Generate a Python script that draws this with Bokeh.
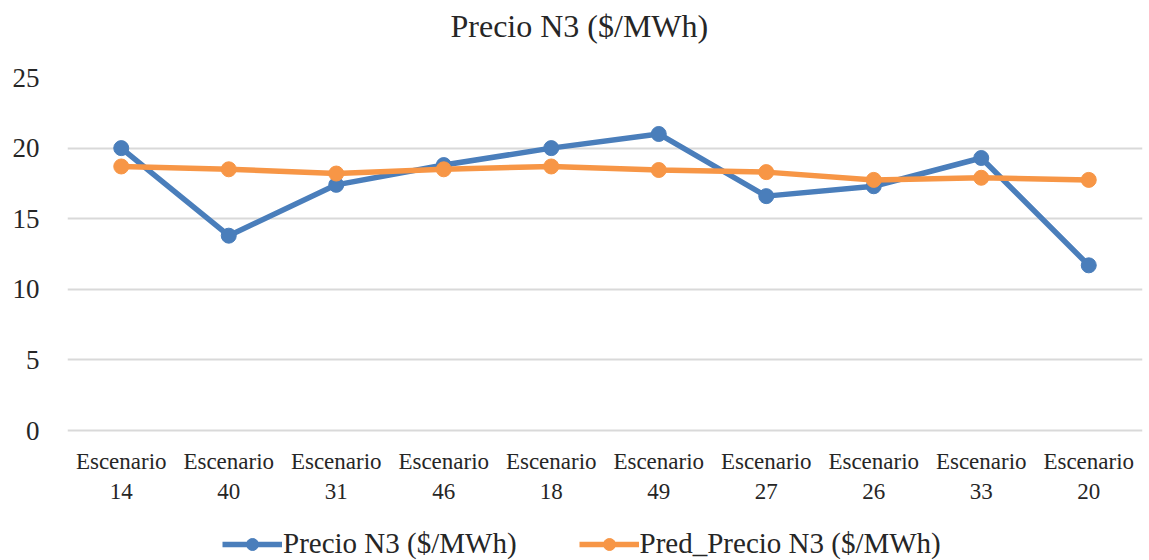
from bokeh.plotting import figure
from bokeh.models import FactorRange, Range1d, Legend, LegendItem, FixedTicker, ColumnDataSource, Title
from bokeh.embed import file_html
from bokeh.resources import INLINE

escenarios = ["14", "40", "31", "46", "18", "49", "27", "26", "33", "20"]
precio = [20.0, 13.8, 17.4, 18.8, 20.0, 21.0, 16.6, 17.3, 19.3, 11.7]
pred_precio = [18.7, 18.5, 18.2, 18.5, 18.7, 18.45, 18.3, 17.75, 17.9, 17.75]
y_ticks = [0, 5, 10, 15, 20, 25]
title_text = "Precio N3 ($/MWh)"
series_names = ["Precio N3 ($/MWh)", "Pred_Precio N3 ($/MWh)"]

factors = ["Escenario\n" + e for e in escenarios]
FONT = "Liberation Serif"
TXT = "#262626"
BLUE = "#4A7EBB"
ORANGE = "#F79646"

# the plot area reaches the bottom of the canvas so that the legend (an in-frame
# annotation) can sit below the category labels; values below 0 are just space
p = figure(width=1149, height=560, output_backend="svg", toolbar_location=None,
           x_range=FactorRange(factors=factors, range_padding=0),
           y_range=Range1d(-9.2, 25), x_axis_location=None,
           min_border_left=67, min_border_right=7, min_border_top=77, min_border_bottom=0)
p.outline_line_color = None
p.background_fill_color = "white"
p.border_fill_color = "white"

p.title.text = title_text
p.title.align = "left"
p.title.offset = 383
p.title.text_font = FONT
p.title.text_font_size = "32px"
p.title.text_font_style = "normal"
p.title.text_color = TXT
p.add_layout(Title(text=" ", text_font_size="15px", standoff=10), "above")

src = ColumnDataSource(dict(x=factors, a=precio, b=pred_precio, lbl=factors))
l1 = p.line("x", "a", source=src, line_color=BLUE, line_width=5.5)
m1 = p.scatter("x", "a", source=src, size=15, fill_color=BLUE, line_color=BLUE)
l2 = p.line("x", "b", source=src, line_color=ORANGE, line_width=5.5)
m2 = p.scatter("x", "b", source=src, size=15, fill_color=ORANGE, line_color=ORANGE)

# category labels under the zero line
p.text(x="x", y=-1.27, text="lbl", source=src, text_font=FONT, text_font_size="23px",
       text_color=TXT, text_align="center", text_baseline="top", text_line_height=1.2)

p.xgrid.grid_line_color = None
p.ygrid.grid_line_color = "#D9D9D9"
p.ygrid.grid_line_width = 2
p.yaxis.ticker = FixedTicker(ticks=y_ticks)
p.yaxis.axis_line_color = None
p.yaxis.major_tick_line_color = None
p.yaxis.minor_tick_line_color = None
p.yaxis.major_label_text_font = FONT
p.yaxis.major_label_text_color = TXT
p.yaxis.major_label_text_font_size = "27px"
p.yaxis.major_label_standoff = 22

legend = Legend(items=[LegendItem(label=series_names[0], renderers=[l1, m1]),
                       LegendItem(label=series_names[1], renderers=[l2, m2])],
                orientation="horizontal", location=(155, 0),
                label_text_font=FONT, label_text_font_size="29px", label_text_color=TXT,
                glyph_width=60, glyph_height=30, label_standoff=1, spacing=62,
                padding=0, margin=0, border_line_color=None, background_fill_alpha=0)
p.add_layout(legend)

open("out.html", "w").write(file_html(p, INLINE))
